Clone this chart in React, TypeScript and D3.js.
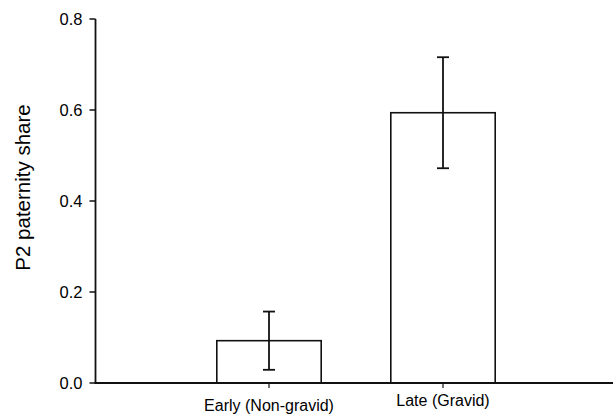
import React from "react";
import * as d3 from "d3";

const categories = ["Early (Non-gravid)", "Late (Gravid)"];
const means = [0.093, 0.594];
const errLow = [0.029, 0.472];
const errHigh = [0.157, 0.716];
const yTicks = [0.0, 0.2, 0.4, 0.6, 0.8];
const yLabel = "P2 paternity share";

const W = 613;
const H = 415;
const font = "'Liberation Sans', Arial, sans-serif";

export default function App() {
  const x0 = 95.5;
  const x1 = 613;
  const yTop = 19;
  const yBot = 383;
  const y = d3.scaleLinear().domain([0, 0.8]).range([yBot, yTop]);
  const x = d3
    .scaleBand<string>()
    .domain(categories)
    .range([182, 530])
    .paddingInner(0.4)
    .paddingOuter(0.2);
  const bw = x.bandwidth();
  const labelDy = [0, -5];
  return (
    <svg
      width={W}
      height={H}
      style={{ position: "absolute", left: 0, top: 0 }}
      fontFamily={font}
    >
      <rect x={0} y={0} width={W} height={H} fill="#fff" />
      {categories.map((c, i) => {
        const cx = (x(c) as number) + bw / 2;
        return (
          <g key={c}>
            <rect
              x={x(c)}
              y={y(means[i])}
              width={bw}
              height={yBot - y(means[i])}
              fill="#fff"
              stroke="#111"
              strokeWidth={1.6}
            />
            <line x1={cx} x2={cx} y1={y(errLow[i])} y2={y(errHigh[i])} stroke="#111" strokeWidth={1.8} />
            <line x1={cx - 6} x2={cx + 6} y1={y(errLow[i])} y2={y(errLow[i])} stroke="#111" strokeWidth={1.8} />
            <line x1={cx - 6} x2={cx + 6} y1={y(errHigh[i])} y2={y(errHigh[i])} stroke="#111" strokeWidth={1.8} />
            <line x1={cx} x2={cx} y1={yBot} y2={yBot + 5} stroke="#111" strokeWidth={1.2} />
            <text
              x={cx}
              y={yBot + 28 + labelDy[i]}
              textAnchor="middle"
              fontSize={16}
              fill="#000"
            >
              {c}
            </text>
          </g>
        );
      })}
      <line x1={x0} x2={x0} y1={yTop} y2={yBot} stroke="#111" strokeWidth={1.8} />
      <line x1={x0 - 1} x2={x1} y1={yBot} y2={yBot} stroke="#111" strokeWidth={1.8} />
      {yTicks.map((t) => (
        <g key={t}>
          <line x1={x0 - 6} x2={x0} y1={y(t)} y2={y(t)} stroke="#111" strokeWidth={1.5} />
          <text
            x={x0 - 13}
            y={y(t)}
            dy="0.35em"
            textAnchor="end"
            fontSize={16.5}
            fill="#000"
          >
            {d3.format(".1f")(t)}
          </text>
        </g>
      ))}
      <text
        transform={`translate(29.5, 187.5) rotate(-90)`}
        textAnchor="middle"
        fontSize={20.5}
        fill="#000"
      >
        {yLabel}
      </text>
    </svg>
  );
}
